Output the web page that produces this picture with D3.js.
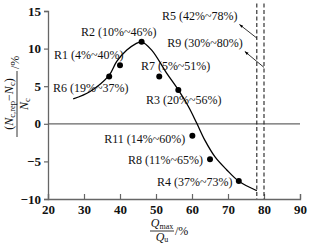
<!DOCTYPE html>
<html><head><meta charset="utf-8">
<script src="https://cdn.jsdelivr.net/npm/d3@7"></script>
<style>
body{margin:0;background:#fff;}
text{font-family:"Liberation Serif","DejaVu Serif",serif;fill:#111;}
</style></head>
<body><svg id="c" width="310" height="245"></svg>
<script>
// ---- data ----
const xTicks = [20,30,40,50,60,70,80,90];
const yTicks = [-10,-5,0,5,10,15];
const pointNames = ["R6","R1","R2","R7","R3","R11","R8","R4"];
const pointX = [37,40,46,50.9,56.2,60.1,65,73];
const pointY = [6.3,7.8,10.9,6.3,4.5,-1.6,-4.7,-7.6];
const curveX = [27.0,31.7,36.9,39.1,41.9,44.2,46.0,48.8,53.0,56.2,59.0,61.3,63.6,66.4,69.6,72.9,78.0];
const curveY = [3.3,4.3,6.4,8.3,9.8,10.6,10.9,9.8,6.7,4.5,2.3,0.1,-2.2,-4.4,-6.1,-7.6,-8.9];
const labels = ["R2 (10%~46%)","R1 (4%~40%)","R6 (19%~37%)","R7 (5%~51%)","R3 (20%~56%)",
                "R11 (14%~60%)","R8 (11%~65%)","R4 (37%~73%)","R5 (42%~78%)","R9 (30%~80%)"];
const labelX = [29.2,21.7,21.4,45.8,47.2,35.6,42.2,50.3,51.7,53.1];
const labelY = [11.7,8.6,4.2,7.2,2.6,-2.6,-5.3,-8.3,13.8,10.2];
const limitX = [78,80];        // dashed limit lines (R5, R9)
const arrowFromY = [11.4,7.5]; // arrow tail heights on the dashed lines
const arrowTo = [[73.2,13.2],[74.7,9.6]];

const svg = d3.select("#c");
const x = d3.scaleLinear().domain([20,90]).range([48,300]);
const y = d3.scaleLinear().domain([-10,15]).range([199,11]);
const axisColor = "#666";

// x axis (ticks inward)
const gx = svg.append("g").attr("transform",`translate(0,${y(-10)})`)
  .call(d3.axisBottom(x).tickValues(xTicks).tickSize(-5).tickPadding(6));
gx.select(".domain").attr("stroke",axisColor).attr("stroke-width",1.3);
gx.selectAll(".tick line").attr("stroke",axisColor).attr("stroke-width",1.2);
gx.selectAll(".tick text").style("font-family","Liberation Serif").style("font-size","13px")
  .style("font-weight","bold").attr("fill","#222");

// y axis (ticks outward)
const gy = svg.append("g").attr("transform",`translate(${x(20)},0)`)
  .call(d3.axisLeft(y).tickValues(yTicks).tickSize(4).tickPadding(3).tickFormat(d=>d<0?"\u2212"+(-d):d));
gy.select(".domain").attr("stroke",axisColor).attr("stroke-width",1.3);
gy.selectAll(".tick line").attr("stroke",axisColor).attr("stroke-width",1.2);
gy.selectAll(".tick text").style("font-family","Liberation Serif").style("font-size","13px")
  .style("font-weight","bold").attr("fill","#222");

// zero line
svg.append("line").attr("x1",x(20)).attr("x2",x(90)).attr("y1",y(0)).attr("y2",y(0))
  .attr("stroke",axisColor).attr("stroke-width",1.3);

// dashed limit lines
limitX.forEach(v=>{
  svg.append("line").attr("x1",x(v)).attr("x2",x(v)).attr("y1",y(16)).attr("y2",y(-10))
    .attr("stroke","#222").attr("stroke-width",1.1).attr("stroke-dasharray","4,2.5");
});

// fitted curve
const line = d3.line().x(d=>x(d[0])).y(d=>y(d[1])).curve(d3.curveCatmullRom);
svg.append("path").datum(curveX.map((v,i)=>[v,curveY[i]])).attr("d",line)
  .attr("fill","none").attr("stroke","#000").attr("stroke-width",1.3);

// points
svg.selectAll("circle.p").data(pointX).enter().append("circle")
  .attr("cx",(d)=>x(d)).attr("cy",(d,i)=>y(pointY[i])).attr("r",3).attr("fill","#000");

// labels
svg.selectAll("text.lab").data(labels).enter().append("text")
  .attr("x",(d,i)=>x(labelX[i])).attr("y",(d,i)=>y(labelY[i]))
  .style("font-size","12px").text(d=>d);

// arrows
const defs = svg.append("defs");
defs.append("marker").attr("id","ah").attr("viewBox","0 0 10 10").attr("refX",9).attr("refY",5)
  .attr("markerWidth",7).attr("markerHeight",5).attr("orient","auto")
  .append("path").attr("d","M0,1.5 L10,5 L0,8.5 Z").attr("fill","#000");
limitX.forEach((v,i)=>{
  svg.append("line").attr("x1",x(v)).attr("y1",y(arrowFromY[i]))
    .attr("x2",x(arrowTo[i][0])).attr("y2",y(arrowTo[i][1]))
    .attr("stroke","#000").attr("stroke-width",0.8).attr("marker-end","url(#ah)");
});

// y-axis title (rotated fraction)
const yt = svg.append("g").attr("transform","translate(16,104) rotate(-90)");
const num = yt.append("text").attr("x",0).attr("y",-3).attr("text-anchor","middle").style("font-size","12px");
num.append("tspan").text("(");
num.append("tspan").style("font-style","italic").text("N");
num.append("tspan").attr("dy",2).style("font-size","8.5px").text("c,rep");
num.append("tspan").attr("dy",-2).text("\u2212");
num.append("tspan").style("font-style","italic").text("N");
num.append("tspan").attr("dy",2).style("font-size","8.5px").text("c");
num.append("tspan").attr("dy",-2).text(")");
yt.append("line").attr("x1",-33).attr("x2",33).attr("y1",1).attr("y2",1).attr("stroke","#000").attr("stroke-width",0.8);
const den = yt.append("text").attr("x",0).attr("y",12).attr("text-anchor","middle").style("font-size","12px");
den.append("tspan").style("font-style","italic").text("N");
den.append("tspan").attr("dy",2).style("font-size","8.5px").text("c");
yt.append("text").attr("x",35).attr("y",3).style("font-size","12px").text("/%");

// x-axis title (fraction)
const xt = svg.append("g").attr("transform","translate(162,231)");
const xn = xt.append("text").attr("x",0).attr("y",-4).attr("text-anchor","middle").style("font-size","12px");
xn.append("tspan").style("font-style","italic").text("Q");
xn.append("tspan").attr("dy",1.5).style("font-size","8px").text("max");
xt.append("line").attr("x1",-12).attr("x2",12).attr("y1",0).attr("y2",0).attr("stroke","#000").attr("stroke-width",0.8);
const xd = xt.append("text").attr("x",0).attr("y",9.5).attr("text-anchor","middle").style("font-size","12px");
xd.append("tspan").style("font-style","italic").text("Q");
xd.append("tspan").attr("dy",1).style("font-size","8px").text("u");
xt.append("text").attr("x",13).attr("y",4).style("font-size","12px").text("/%");
</script></body></html>
